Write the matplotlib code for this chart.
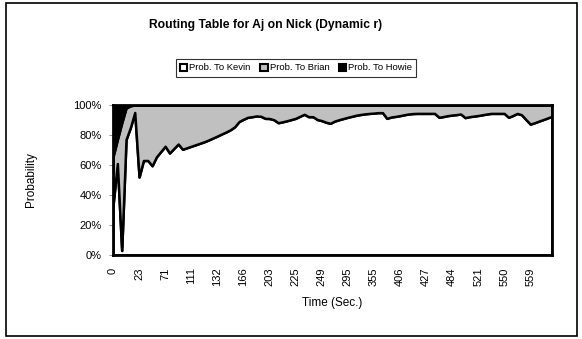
import numpy as np
import matplotlib
matplotlib.use("Agg")
import matplotlib.pyplot as plt
from matplotlib.patches import Patch, Rectangle
from matplotlib.ticker import FuncFormatter

plt.rcParams['font.family'] = ['Liberation Sans', 'DejaVu Sans']

# share of packets routed to each neighbour, one value per sample (percent)
kevin = [33, 61, 3, 77, 85, 95, 52, 63, 63, 59.5,
         65.5, 69, 72.5, 68, 71, 74, 70.5, 71.5, 72.5, 73.5,
         74.5, 75.5, 76.7, 78, 79.3, 80.7, 82, 83.5, 85.5, 89,
         90.5, 91.8, 92.2, 92.7, 92.5, 91.1, 91, 90.2, 88.2, 88.8,
         89.5, 90.3, 91.1, 92.5, 93.8, 92.2, 92.2, 90.3, 89.6, 88.5,
         87.8, 89.3, 90.2, 91, 91.8, 92.5, 93.2, 93.7, 94.1, 94.4,
         94.6, 94.9, 94.9, 91.1, 92, 92.4, 92.9, 93.5, 94, 94.3,
         94.4, 94.4, 94.4, 94.4, 94.4, 91.8, 92.3, 92.9, 93.3, 93.6,
         94, 91.6, 92.2, 92.6, 93, 93.5, 94, 94.4, 94.4, 94.4,
         94.4, 91.8, 93, 94.4, 93.5, 90.3, 87.3, 88.2, 89.3, 90.3,
         91.4, 92.5]
howie = [34.5, 23, 12, 2, 0.5, 0, 0, 0, 0, 0,
         0, 0, 0, 0, 0, 0, 0, 0, 0, 0,
         0, 0, 0, 0, 0, 0, 0, 0, 0, 0,
         0, 0, 0, 0, 0, 0, 0, 0, 0, 0,
         0, 0, 0, 0, 0, 0, 0, 0, 0, 0,
         0, 0, 0, 0, 0, 0, 0, 0, 0, 0,
         0, 0, 0, 0, 0, 0, 0, 0, 0, 0,
         0, 0, 0, 0, 0, 0, 0, 0, 0, 0,
         0, 0, 0, 0, 0, 0, 0, 0, 0, 0,
         0, 0, 0, 0, 0, 0, 0, 0, 0, 0,
         0, 0]
# 100% stacked: Brian gets whatever is left
kevin = np.array(kevin, dtype=float)
howie = np.array(howie, dtype=float)
brian = 100.0 - kevin - howie

time_labels = ['0', '23', '71', '111', '132', '166', '203', '225', '249',
               '295', '355', '406', '427', '484', '521', '550', '559']
label_step = 6

x = np.arange(len(kevin))

fig = plt.figure(figsize=(5.82, 3.39), dpi=100)
ax = fig.add_axes([113 / 582, 1 - 255 / 339, 439 / 582, 150 / 339])

ax.stackplot(x, kevin, brian, howie,
             colors=['white', '#c0c0c0', 'black'],
             edgecolor='black', linewidth=1.8)

ax.set_xlim(0, len(kevin) - 1)
ax.set_ylim(0, 100)
ax.set_yticks(np.arange(0, 101, 20))
ax.yaxis.set_major_formatter(FuncFormatter(lambda v, p: f'{v:.0f}%'))
ax.set_xticks(x[::label_step][:len(time_labels)])
ax.set_xticklabels(time_labels, rotation=90)
ax.tick_params(axis='y', length=3, width=0.6, color='#808080', pad=5, labelsize=8)
ax.tick_params(axis='x', length=0, pad=9, labelsize=8)
for s in ax.spines.values():
    s.set_linewidth(2)
    s.set_zorder(5)

ax.set_ylabel('Probability', fontsize=8.5, labelpad=26)
ax.set_xlabel('Time (Sec.)', fontsize=8.5, labelpad=8)

fig.text(266 / 582, 1 - 25 / 339, 'Routing Table for Aj on Nick (Dynamic r)',
         ha='center', va='center', fontsize=8.7, fontweight='bold')

handles = [Patch(facecolor='white', edgecolor='black', linewidth=1.5),
           Patch(facecolor='#c0c0c0', edgecolor='black', linewidth=1.5),
           Patch(facecolor='black', edgecolor='black', linewidth=1.5)]
leg = fig.legend(handles, ['Prob. To Kevin', 'Prob. To Brian', 'Prob. To Howie'],
                 loc='center', bbox_to_anchor=(296 / 582, 1 - 68 / 339),
                 ncol=3, fontsize=6.8, frameon=True, fancybox=False,
                 handlelength=0.8, handleheight=0.8, handletextpad=0.2,
                 columnspacing=1.0, borderpad=0.45, borderaxespad=0)
leg.get_frame().set_edgecolor('black')
leg.get_frame().set_linewidth(0.8)

# chart border
fig.patches.append(Rectangle((6 / 582, 3 / 339), 571 / 582, 333 / 339,
                             transform=fig.transFigure, fill=False,
                             edgecolor='black', linewidth=1.2))

fig.savefig('out.png', dpi=100)
